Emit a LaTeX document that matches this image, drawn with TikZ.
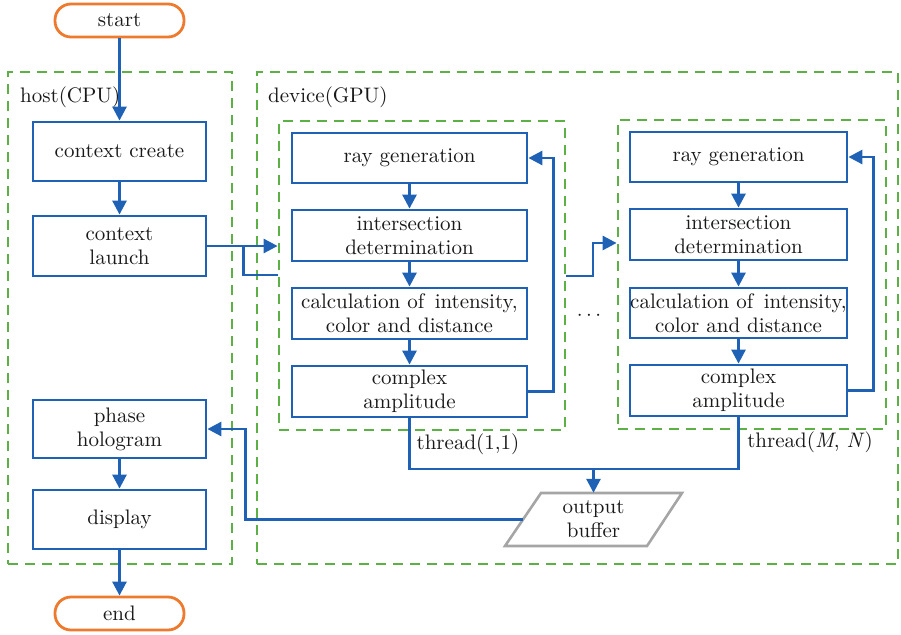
\documentclass[tikz,border=0pt]{standalone}
\usepackage{fontspec}
\setmainfont{lmroman10-regular}[Extension=.otf,ItalicFont=lmroman10-italic]
\usetikzlibrary{arrows.meta,positioning,calc}
\definecolor{cblue}{RGB}{31,98,181}
\definecolor{cgreen}{RGB}{92,176,70}
\definecolor{corange}{RGB}{238,122,46}
\definecolor{cgray}{RGB}{165,165,165}
\definecolor{ctext}{RGB}{25,25,25}
\tikzset{
  box/.style={draw=cblue,line width=2.8pt,minimum width=173pt,align=center,inner sep=0pt,text=ctext},
  tbox/.style={draw=cblue,line width=2.8pt,minimum width=235pt,align=center,inner sep=0pt,text=ctext},
  ubox/.style={draw=cblue,line width=2.8pt,minimum width=217pt,align=center,inner sep=0pt,text=ctext},
  term/.style={draw=corange,line width=2.8pt,rounded corners=16pt,minimum width=129pt,minimum height=33pt,inner sep=0pt,text=ctext},
  region/.style={draw=cgreen,line width=2.8pt,dash pattern=on 10pt off 7pt,inner sep=0pt},
  arr/.style={draw=cblue,line width=2.8pt,-{Triangle[length=14pt,width=14pt]}},
  ln/.style={draw=cblue,line width=2.8pt},
  lbl/.style={text=ctext,inner sep=0pt},
}
\begin{document}
\begin{tikzpicture}[x=1pt,y=-1pt,font=\fontsize{21}{24}\selectfont]
\useasboundingbox (0,0) rectangle (901,634);
% regions
\node[region,minimum width=224pt,minimum height=492pt] (host) at (120,318) {};
\node[region,minimum width=641pt,minimum height=492pt] (dev) at (577.5,318) {};
\node[region,minimum width=286pt,minimum height=309pt] (t1) at (422,275.5) {};
\node[region,minimum width=268pt,minimum height=309pt] (t2) at (752,274.5) {};
\node[lbl,anchor=west] (hl) at (20,97) {host(CPU)};
\node[lbl,anchor=west] (dl) at (268,97) {device(GPU)};
% terminals
\node[term] (start) at (119.5,20.5) {start};
\node[term] (end) at (119.5,613.5) {end};
% host boxes
\node[box,minimum height=59pt] (cc) at (119.5,151.5) {context create};
\node[box,minimum height=60pt] (cl) at (119.5,246) {context\\launch};
\node[box,minimum height=58pt] (ph) at (119.5,429) {phase\\hologram};
\node[box,minimum height=59pt] (disp) at (119.5,519.5) {display};
% thread 1
\node[tbox,minimum height=50pt] (r1) at (409.5,158) {ray generation};
\node[tbox,minimum height=51pt] (i1) at (409.5,235.5) {intersection\\determination};
\node[tbox,minimum height=51pt] (k1) at (409.5,313.5) {calculation of\, intensity,\\color and distance};
\node[tbox,minimum height=51pt] (c1) at (409.5,391.5) {complex\\amplitude};
% thread 2
\node[ubox,minimum height=50pt] (r2) at (738.5,157) {ray generation};
\node[ubox,minimum height=51pt] (i2) at (738.5,234.5) {intersection\\determination};
\node[ubox,minimum height=50pt] (k2) at (738.5,313) {calculation of\, intensity,\\color and distance};
\node[ubox,minimum height=51pt] (c2) at (738.5,390.5) {complex\\amplitude};
\node[lbl] (dots) at (589,316) {$\cdots$};
\node[lbl] (th1) at (468,444) {thread(1,1)};
\node[lbl] (th2) at (810,442) {thread(\textit{M}, \textit{N})};
% output buffer
\node[lbl,align=center,minimum height=53pt] (ob) at (593.5,519.5) {output\\buffer};
\draw[cgray,line width=2.6pt,line join=miter] (541,493) -- (682,493) -- (647,546) -- (505,546) -- cycle;
\coordinate (obw) at (523,519.5);
% connectors
\draw[arr] (start) -- (cc);
\draw[arr] (cc) -- (cl);
\draw[arr] (ph) -- (disp);
\draw[arr] (disp) -- (end);
\draw[arr] (cl.east) -- (t1.west |- cl.east);
\draw[ln] ($(cl.east)+(36,0)$) |- (t1.west |- 0,275);
\draw[arr] (t1.east |- 0,276) -| (593,243) -- (t2.west |- 0,243);
\draw[arr] (r1) -- (i1);
\draw[arr] (i1) -- (k1);
\draw[arr] (k1) -- (c1);
\draw[arr] (c1.east) -- ++(25,0) |- (r1.east);
\draw[arr] (r2) -- (i2);
\draw[arr] (i2) -- (k2);
\draw[arr] (k2) -- (c2);
\draw[arr] (c2.east) -- ++(25,0) |- (r2.east);
\coordinate (jb) at (593.5,469);
\draw[ln] (c1.south) |- (jb) -| (c2.south);
\draw[arr] (jb) -- (ob.north);
\draw[arr] (obw) -| ($(ph.east)+(38,0)$) -- (ph.east);
\end{tikzpicture}
\end{document}
